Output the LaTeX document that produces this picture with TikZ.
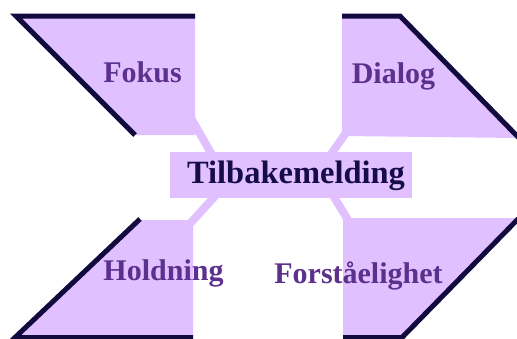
\documentclass[tikz,border=0pt]{standalone}
\usepackage{fontspec}
\setmainfont{Liberation Serif}
\definecolor{lav}{RGB}{224,192,255}
\definecolor{edge}{RGB}{18,10,62}
\definecolor{labtxt}{RGB}{92,48,140}
\definecolor{midtxt}{RGB}{22,12,72}
\tikzset{
  petal/.style={fill=lav, draw=none},
  rim/.style={draw=edge, line width=5pt, line join=miter},
  conn/.style={draw=lav, line width=8pt},
  sidelab/.style={anchor=base, inner sep=0pt, text=labtxt, font=\fontsize{30}{36}\selectfont\bfseries},
  midbox/.style={fill=lav, minimum width=242pt, minimum height=46pt, inner sep=0pt},
  midlab/.style={anchor=base, inner sep=0pt, text=midtxt, font=\fontsize{32.5}{38}\selectfont\bfseries}
}
\begin{document}
\begin{tikzpicture}[x=1pt,y=-1pt]
\useasboundingbox (0,0) rectangle (517,338);
\clip (0,0) rectangle (517,338);

% connector end points
\coordinate (tlA) at (191,118);
\coordinate (tlB) at (215,160);
\coordinate (trA) at (350,127);
\coordinate (trB) at (327,160);
\coordinate (blA) at (186,228);
\coordinate (blB) at (217,194);
\coordinate (brA) at (331,192);
\coordinate (brB) at (351,225);

\draw[conn] (tlA) -- (tlB);
\draw[conn] (trA) -- (trB);
\draw[conn] (blA) -- (blB);
\draw[conn] (brA) -- (brB);

% top-left
\path[petal] (14,16) -- (195,16) -- (195,135) -- (133,135) -- cycle;
\draw[rim] (195,16) -- (16,16) -- (135,135);
% top-right
\path[petal] (342,16) -- (400,16) -- (519,138) -- (342,136) -- cycle;
\draw[rim] (342,16) -- (400,16) -- (520,139);
% bottom-left
\path[petal] (138,220) -- (193,220) -- (193,338) -- (13,338) -- cycle;
\draw[rim] (140,219) -- (15,337.5) -- (193,337.5);
% bottom-right
\path[petal] (343,218) -- (519,218) -- (402,338) -- (343,338) -- cycle;
\draw[rim] (520,217) -- (402,337.5) -- (343,337.5);

\node[midbox] (mid) at (291,175) {};
\node[midlab] (midtext) at (296,183) {Tilbakemelding};

\node[sidelab] (fokus) at (142.5,82) {Fokus};
\node[sidelab] (dialog) at (393.5,83) {Dialog};
\node[sidelab] (hold) at (163.5,280) {Holdning};
\node[sidelab] (forst) at (358.5,283) {Forståelighet};
\end{tikzpicture}
\end{document}
